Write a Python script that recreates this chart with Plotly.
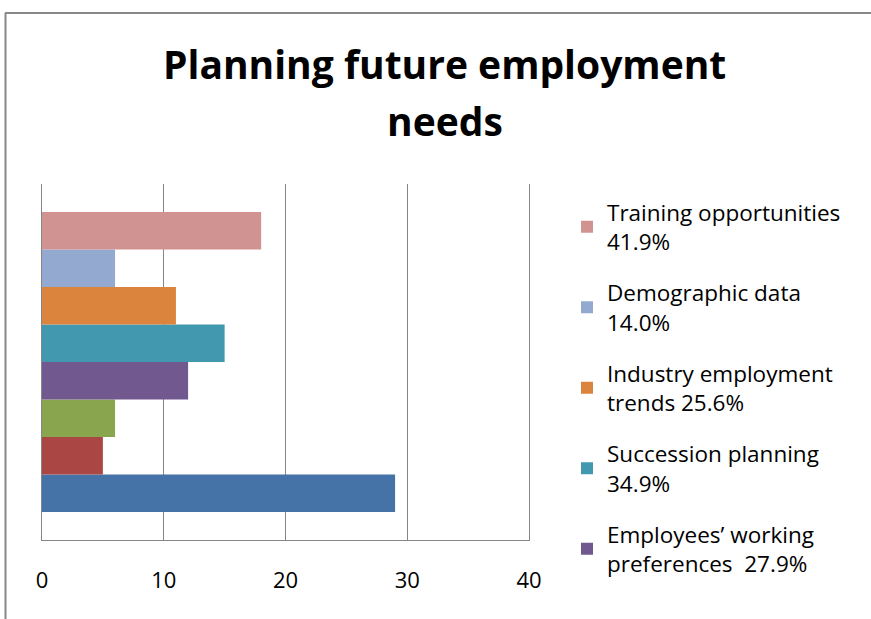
import plotly.graph_objects as go

# Survey results: counts of respondents, listed bottom bar to top bar
labels = [
    "Workforce skills audit<br>67.4%",
    "Staff turnover data<br>11.6%",
    "Labour market data<br>14.0%",
    "Employees’ working<br>preferences  27.9%",
    "Succession planning<br>34.9%",
    "Industry employment<br>trends 25.6%",
    "Demographic data<br>14.0%",
    "Training opportunities<br>41.9%",
]
values = [29, 5, 6, 12, 15, 11, 6, 18]
colors = ["#4573A7", "#AA4744", "#89A54E", "#71588F",
          "#4198AF", "#DB843D", "#93A9CF", "#D19392"]
in_legend = [False, False, False, True, True, True, True, True]

x_ticks = [0, 10, 20, 30, 40]
title_lines = ["Planning future employment", "needs"]

W, H = 871, 619
FONT = "Open Sans"
GRID = "#868686"

fig = go.Figure()
n = len(values)
for i, (lab, val, col, show) in enumerate(zip(labels, values, colors, in_legend)):
    fig.add_trace(go.Bar(
        y=[""], x=[val], orientation="h", name=lab,
        marker=dict(color=col, line=dict(width=0)),
        showlegend=show, legendgroup=f"g{i}", legendrank=n - i,
    ))

# plot area in pixels
px_l, px_r, px_t, px_b = 42, 529, 184, 540

fig.update_layout(
    width=W, height=H,
    margin=dict(l=0, r=0, t=0, b=0, autoexpand=False),
    paper_bgcolor="white", plot_bgcolor="white",
    barmode="group", bargap=0.157, bargroupgap=0,
    font=dict(family=FONT, color="#000000"),
    xaxis=dict(
        domain=[px_l / W, px_r / W], range=[0, 40], tickvals=x_ticks,
        showgrid=True, gridcolor=GRID, gridwidth=1,
        showline=True, linecolor=GRID, linewidth=1,
        zeroline=False, ticks="", ticklabelstandoff=21,
        tickfont=dict(size=22, family=FONT, color="#000000"),
        fixedrange=True, automargin=False,
    ),
    yaxis=dict(
        domain=[1 - px_b / H, 1 - px_t / H],
        showticklabels=False, showgrid=False, zeroline=False,
        showline=True, mirror=True, linecolor=GRID, linewidth=1,
        ticks="", fixedrange=True, automargin=False,
    ),
    legend=dict(
        x=567 / W, y=1 - 191 / H, xanchor="left", yanchor="top",
        traceorder="grouped", tracegroupgap=19, maxheight=1,
        font=dict(size=22.5, family=FONT, color="#000000"),
        itemwidth=30, bgcolor="rgba(0,0,0,0)",
    ),
    showlegend=True,
)

for text, yc in zip(title_lines, [63, 120]):
    fig.add_annotation(
        text=f"<b>{text}</b>",
        xref="paper", yref="paper", x=445 / W, y=1 - yc / H,
        xanchor="center", yanchor="middle", showarrow=False,
        font=dict(size=39, family=FONT, color="#000000"),
    )

# chart frame lines along the top and left edges
fig.add_shape(type="line", xref="paper", yref="paper",
              x0=5 / W, x1=1, y0=1 - 13 / H, y1=1 - 13 / H,
              line=dict(color="#888888", width=2))
fig.add_shape(type="line", xref="paper", yref="paper",
              x0=5.5 / W, x1=5.5 / W, y0=0, y1=1 - 13 / H,
              line=dict(color="#888888", width=2))

fig.write_html("out.html")
